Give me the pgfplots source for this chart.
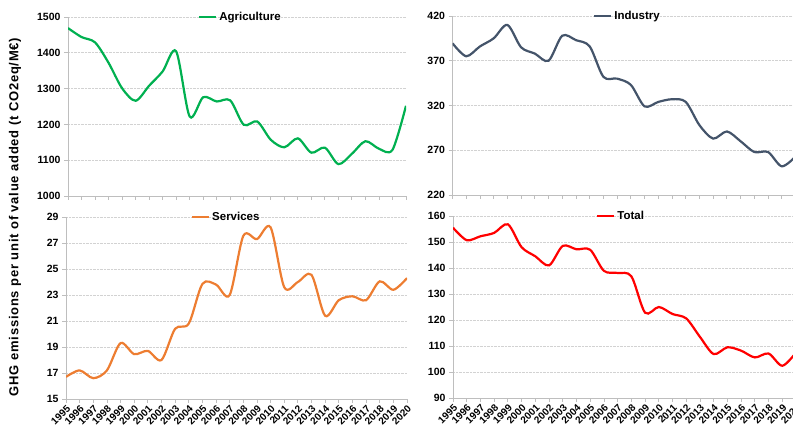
\documentclass[border=0pt]{standalone}
\usepackage{fontspec}
\setmainfont{Liberation Sans}
\newfontfamily\ylabfont[LetterSpace=6]{Liberation Sans}
\usepackage{pgfplots}
\pgfplotsset{compat=1.18}
\definecolor{agri}{RGB}{0,176,80}
\definecolor{indu}{RGB}{68,84,106}
\definecolor{serv}{RGB}{237,125,49}
\definecolor{tot}{RGB}{255,0,0}
\definecolor{axgray}{RGB}{190,190,190}
\pgfplotsset{
  panel/.style={
    scale only axis,
    axis x line*=bottom, axis y line*=left,
    axis line style={draw=axgray, line width=0.8pt},
    every tick/.style={draw=axgray, line width=0.8pt},
    tick align=outside, major tick length=4pt,
    xmin=1995, xmax=2020, xtick={1995,...,2020},
    ymajorgrids, grid style={densely dotted, gray!35, line width=0.6pt},
    /pgf/number format/assume math mode=true,
    /pgf/number format/set thousands separator={},
    yticklabel style={font=\bfseries\fontsize{10.5}{12}\selectfont},
    xticklabel style={font=\bfseries\fontsize{10}{12}\selectfont, rotate=45, anchor=north east, inner sep=1pt},
    xticklabel={\pgfmathprintnumber[fixed,precision=0,set thousands separator={}]{\tick}},
    legend style={draw=none, fill=none, font=\bfseries\fontsize{11.5}{13}\selectfont, at={(0.5,1)}, anchor=center, inner sep=0pt},
    legend cell align=left,
    legend image code/.code={\draw[#1, line width=2.2pt] (0pt,0pt) -- (17pt,0pt);},
    every axis plot/.append style={smooth, tension=0.5, line width=2.2pt, no marks},
  }
}
\begin{document}
\begin{tikzpicture}
\useasboundingbox (0pt,0pt) rectangle (793pt,435pt);
\clip (0pt,0pt) rectangle (793pt,435pt);

\begin{axis}[panel, at={(68pt,239pt)}, anchor=south west, width=338pt, height=179pt,
  ymin=1000, ymax=1500, ytick={1000,1100,...,1500}, xticklabels={},
  legend style={at={(0.51,1)}}]
\addplot[agri] coordinates {(1995,1469) (1996,1444) (1997,1429) (1998,1372) (1999,1301) (2000,1266) (2001,1308) (2002,1348) (2003,1404) (2004,1222) (2005,1276) (2006,1264) (2007,1267) (2008,1199) (2009,1208) (2010,1157) (2011,1136) (2012,1161) (2013,1121) (2014,1135) (2015,1089) (2016,1118) (2017,1153) (2018,1132) (2019,1129) (2020,1252)};
\addlegendentry{Agriculture}
\end{axis}

\begin{axis}[panel, at={(452.5pt,240pt)}, anchor=south west, width=343pt, height=179pt,
  ymin=220, ymax=420, ytick={220,270,...,420}, xticklabels={},
  legend style={at={(0.51,1)}}]
\addplot[indu] coordinates {(1995,389.5) (1996,375) (1997,386) (1998,395) (1999,410) (2000,385) (2001,378) (2002,370) (2003,398) (2004,393) (2005,386) (2006,352) (2007,350) (2008,343) (2009,319) (2010,324) (2011,327) (2012,324) (2013,298) (2014,283) (2015,291) (2016,280) (2017,268) (2018,268) (2019,252) (2020,263)};
\addlegendentry{Industry}
\end{axis}

\begin{axis}[panel, at={(66pt,36pt)}, anchor=south west, width=341pt, height=182pt,
  ymin=15, ymax=29, ytick={15,17,...,29},
  legend style={at={(0.47,1)}}]
\addplot[serv] coordinates {(1995,16.7) (1996,17.2) (1997,16.6) (1998,17.2) (1999,19.3) (2000,18.45) (2001,18.7) (2002,18.0) (2003,20.4) (2004,20.8) (2005,23.85) (2006,23.8) (2007,23.0) (2008,27.55) (2009,27.3) (2010,28.2) (2011,23.6) (2012,24.0) (2013,24.55) (2014,21.4) (2015,22.6) (2016,22.9) (2017,22.6) (2018,24.05) (2019,23.4) (2020,24.3)};
\addlegendentry{Services}
\end{axis}

\begin{axis}[panel, at={(453pt,37pt)}, anchor=south west, width=343pt, height=182pt,
  ymin=90, ymax=160, ytick={90,100,...,160},
  legend style={at={(0.49,1)}}]
\addplot[tot] coordinates {(1995,155.5) (1996,150.7) (1997,152.2) (1998,153.5) (1999,156.8) (2000,148) (2001,144.5) (2002,141) (2003,148.5) (2004,147.2) (2005,147) (2006,138.9) (2007,138.1) (2008,136.8) (2009,122.8) (2010,125) (2011,122.3) (2012,120.6) (2013,113.5) (2014,106.9) (2015,109.5) (2016,108.2) (2017,105.6) (2018,107.1) (2019,102.4) (2020,107.5)};
\addlegendentry{Total}
\end{axis}

\node[rotate=90, font=\ylabfont\bfseries\fontsize{13}{15}\selectfont] at (15pt,218pt) {GHG emissions per unit of value added (t CO2eq/M€)};
\end{tikzpicture}
\end{document}
